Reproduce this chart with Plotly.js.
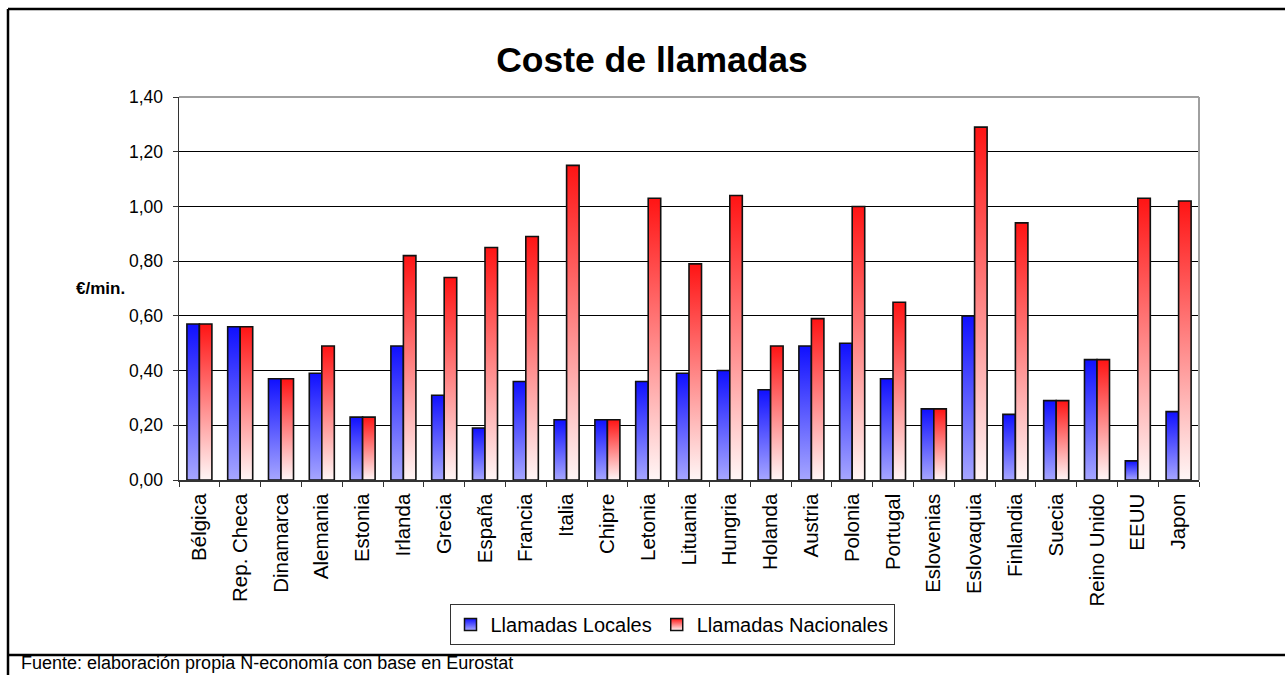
<!DOCTYPE html>
<html>
<head>
<meta charset="utf-8">
<script src="https://cdn.plot.ly/plotly-3.0.1.min.js"></script>
<style>
  html, body { margin: 0; padding: 0; background: #fff; }
  #chart { width: 1285px; height: 675px; }
</style>
</head>
<body>
<div id="chart"></div>
<script>
const countries = ['Bélgica','Rep. Checa','Dinamarca','Alemania','Estonia','Irlanda','Grecia','España','Francia','Italia','Chipre','Letonia','Lituania','Hungria','Holanda','Austria','Polonia','Portugal','Eslovenias','Eslovaquia','Finlandia','Suecia','Reino Unido','EEUU','Japon'];
const locales = [0.57,0.56,0.37,0.39,0.23,0.49,0.31,0.19,0.36,0.22,0.22,0.36,0.39,0.40,0.33,0.49,0.50,0.37,0.26,0.60,0.24,0.29,0.44,0.07,0.25];
const nacionales = [0.57,0.56,0.37,0.49,0.23,0.82,0.74,0.85,0.89,1.15,0.22,1.03,0.79,1.04,0.49,0.59,1.00,0.65,0.26,1.29,0.94,0.29,0.44,1.03,1.02];
const yTicks = [0,0.2,0.4,0.6,0.8,1.0,1.2,1.4];
const seriesNames = ['Llamadas Locales','Llamadas Nacionales'];
const titleText = 'Coste de llamadas';
const yTitleText = '€/min.';
const footerText = 'Fuente: elaboración propia N-economía con base en Eurostat';

const W = 1285, H = 675;
const M = {l: 179, r: 86, t: 97, b: 195};
const PW = W - M.l - M.r, PH = H - M.t - M.b;
const px2x = px => (px - M.l) / PW;
const py2y = py => (H - M.b - py) / PH;

const FONT = 'Liberation Sans, Arial, sans-serif';

const traces = [
  {type: 'bar', name: seriesNames[0], x: countries, y: locales,
   marker: {color: '#4a4aff', line: {color: '#111', width: 1.6}}, hoverinfo: 'skip'},
  {type: 'bar', name: seriesNames[1], x: countries, y: nacionales,
   marker: {color: '#ff6060', line: {color: '#111', width: 1.6}}, hoverinfo: 'skip'}
];

const frame = {type: 'line', xref: 'paper', yref: 'paper', line: {color: '#000', width: 2.5}, layer: 'above'};
const layout = {
  width: W, height: H,
  margin: {l: M.l, r: M.r, t: M.t, b: M.b, autoexpand: false},
  paper_bgcolor: '#fff', plot_bgcolor: '#fff',
  separators: ',.',
  font: {family: FONT, color: '#000', size: 16},
  title: {text: titleText, font: {family: FONT, size: 35.5, color: '#000', weight: 'bold'},
          x: 652 / W, xanchor: 'center', y: 1 - 60 / H, yanchor: 'middle', xref: 'container', yref: 'container'},
  barmode: 'group', bargap: 0.387, bargroupgap: 0,
  showlegend: true,
  legend: {orientation: 'h', x: px2x(672), xanchor: 'center', y: py2y(604), yanchor: 'top',
           bgcolor: '#fff', bordercolor: '#333', borderwidth: 1,
           font: {family: FONT, size: 20, color: '#000'}, itemwidth: 30},
  xaxis: {type: 'category', tickangle: -90, ticks: 'outside', tickson: 'boundaries', ticklen: 5,
          tickcolor: '#333', showline: true, linecolor: '#333', linewidth: 1.5,
          showgrid: false, zeroline: false, tickfont: {family: FONT, size: 20.5, color: '#000'},
          ticklabelstandoff: 4, fixedrange: true},
  yaxis: {range: [0, 1.4], tickvals: yTicks, tickformat: '.2f', ticks: 'outside', ticklen: 5,
          tickcolor: '#333', showline: true, linecolor: '#333', linewidth: 1.5,
          showgrid: true, gridcolor: '#000', gridwidth: 1, zeroline: false,
          tickfont: {family: FONT, size: 17.5, color: '#000'}, ticklabelstandoff: 6, fixedrange: true},
  annotations: [
    {text: yTitleText, xref: 'paper', yref: 'paper', x: px2x(100), y: py2y(288),
     xanchor: 'center', yanchor: 'middle', showarrow: false,
     font: {family: FONT, size: 17, color: '#000', weight: 'bold'}},
    {text: footerText, xref: 'paper', yref: 'paper', x: px2x(19), y: py2y(675),
     xanchor: 'left', yanchor: 'bottom', showarrow: false,
     font: {family: FONT, size: 18, color: '#000'}}
  ],
  shapes: [
    {type: 'line', xref: 'paper', yref: 'paper', x0: 0, x1: 1, y0: 1, y1: 1, line: {color: '#a0a0a0', width: 2}, layer: 'above'},
    {type: 'line', xref: 'paper', yref: 'paper', x0: 1, x1: 1, y0: 0, y1: 1, line: {color: '#a0a0a0', width: 2}, layer: 'above'},
    Object.assign({}, frame, {x0: px2x(8), x1: px2x(8), y0: py2y(9), y1: py2y(680)}),
    Object.assign({}, frame, {x0: px2x(8), x1: px2x(1290), y0: py2y(9), y1: py2y(9)}),
    Object.assign({}, frame, {x0: px2x(8), x1: px2x(1290), y0: py2y(655), y1: py2y(655)})
  ]
};

const gradients = [
  {id: 'gradBlue', top: '#1010ff', bottom: '#a6a6ff'},
  {id: 'gradRed', top: '#ff1414', bottom: '#fff6f6'}
];

function applyGradients(gd) {
  const NS = 'http://www.w3.org/2000/svg';
  const svg = gd.querySelector('.main-svg');
  let defs = svg.querySelector('defs');
  if (!defs) { defs = document.createElementNS(NS, 'defs'); svg.insertBefore(defs, svg.firstChild); }
  gradients.forEach(g => {
    if (document.getElementById(g.id)) return;
    const lg = document.createElementNS(NS, 'linearGradient');
    lg.setAttribute('id', g.id);
    lg.setAttribute('x1', '0'); lg.setAttribute('y1', '0');
    lg.setAttribute('x2', '0'); lg.setAttribute('y2', '1');
    [[0, g.top], [1, g.bottom]].forEach(([o, c]) => {
      const s = document.createElementNS(NS, 'stop');
      s.setAttribute('offset', o);
      s.setAttribute('stop-color', c);
      lg.appendChild(s);
    });
    defs.appendChild(lg);
  });
  const barTraces = gd.querySelectorAll('.barlayer .trace');
  barTraces.forEach((t, i) => {
    t.querySelectorAll('.point path').forEach(p => { p.style.fill = 'url(#' + gradients[i].id + ')'; });
  });
  const legTraces = gd.querySelectorAll('.legend .traces');
  legTraces.forEach((t, i) => {
    t.querySelectorAll('.legendpoints path').forEach(p => {
      p.style.fill = 'url(#' + gradients[i].id + ')';
      p.style.stroke = '#111';
      p.style.strokeWidth = '1.5px';
    });
  });
}

const gd = document.getElementById('chart');
Plotly.newPlot(gd, traces, layout, {displayModeBar: false, staticPlot: true}).then(applyGradients);
</script>
</body>
</html>
